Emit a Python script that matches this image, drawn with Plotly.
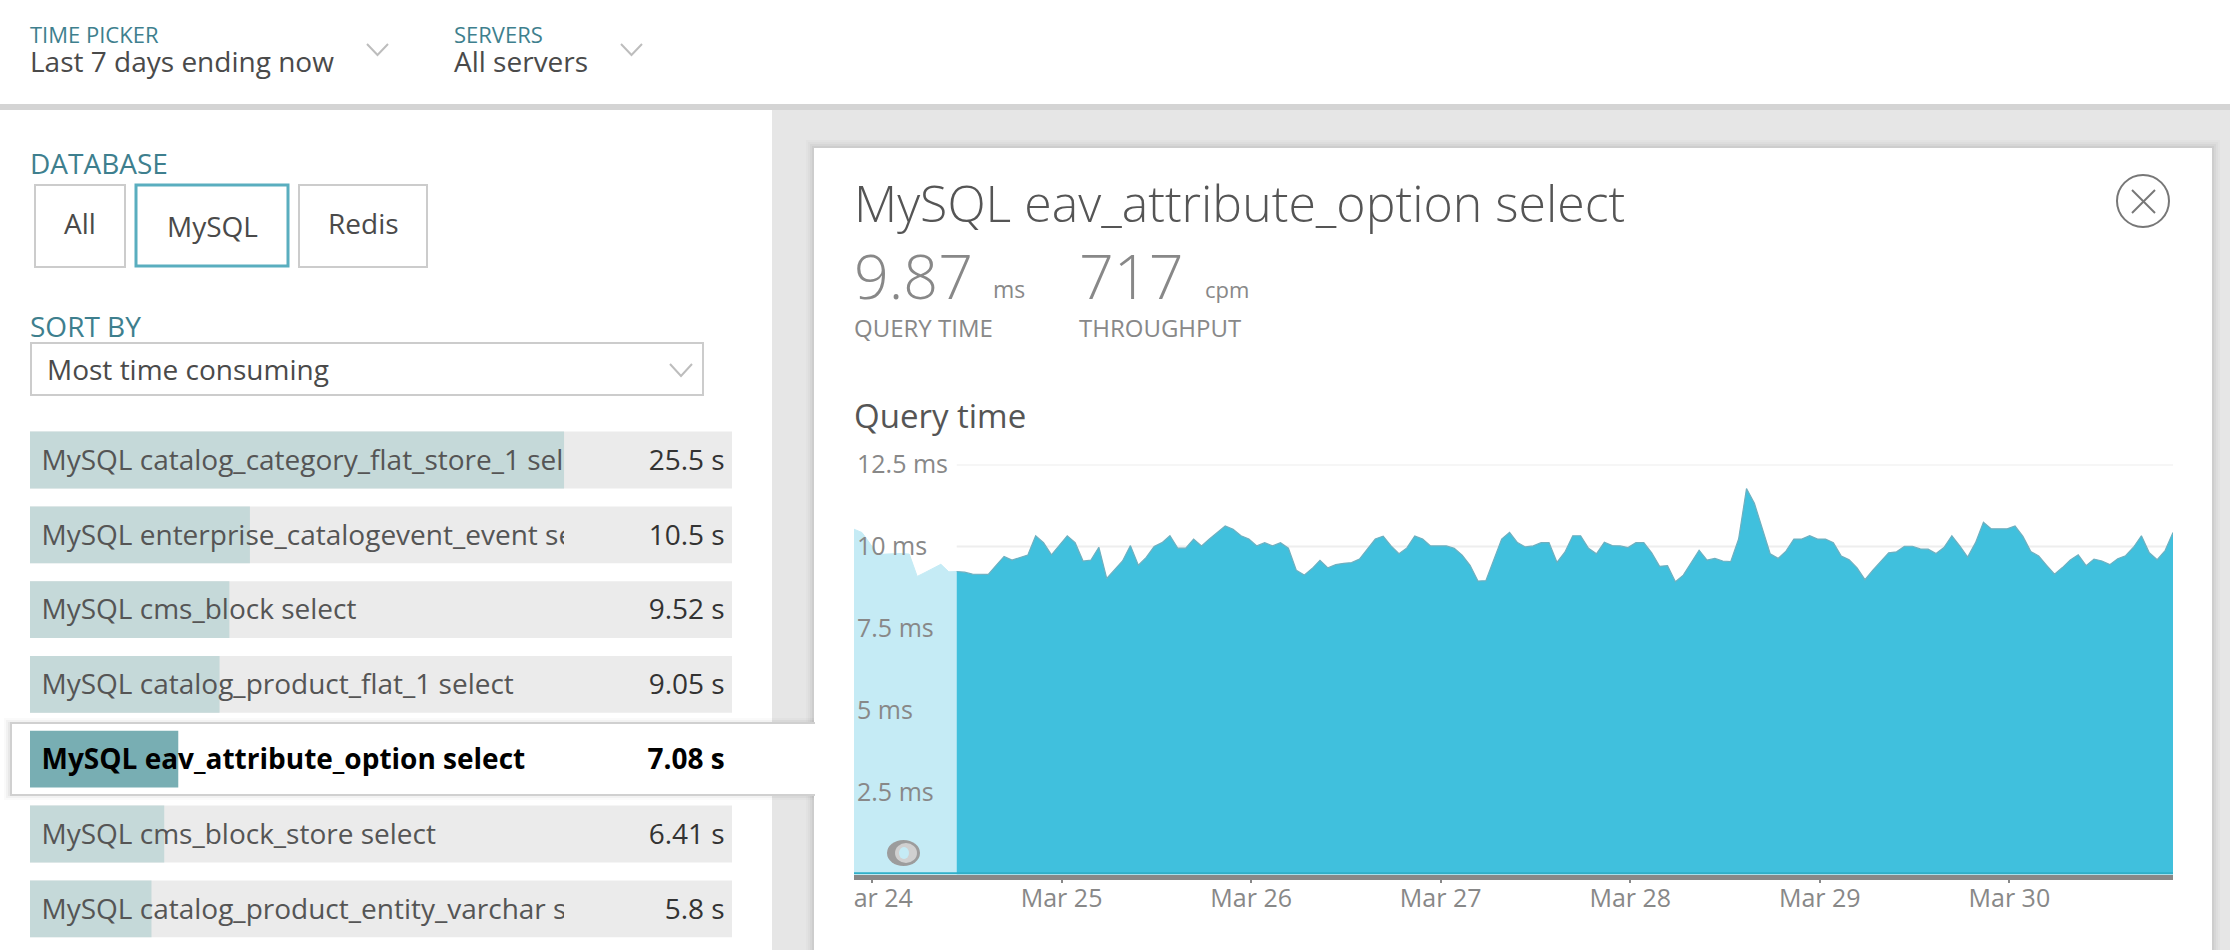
import pandas as pd
import plotly.graph_objects as go

W, H = 2230, 950

# query time, one value per hour (ms)
query_ms = [
    10.53, 10.43, 10.10, 9.75, 9.77, 9.79, 9.79, 9.77, 9.09, 9.21, 9.33, 9.46, 9.23, 9.24,
    9.22, 9.16, 9.16, 9.15, 9.43, 9.70, 9.59, 9.66, 9.74, 10.33, 10.12, 9.75, 10.03, 10.33,
    10.12, 9.56, 9.59, 9.98, 9.03, 9.30, 9.56, 10.03, 9.43, 9.67, 10.00, 10.12, 10.33, 9.95,
    9.95, 10.23, 10.02, 10.23, 10.43, 10.63, 10.53, 10.33, 10.23, 10.02, 10.12, 10.02, 10.12, 9.95,
    9.28, 9.13, 9.33, 9.58, 9.35, 9.45, 9.49, 9.51, 9.62, 9.92, 10.23, 10.32, 10.02, 9.78,
    9.96, 10.32, 10.23, 10.02, 10.02, 10.02, 9.95, 9.74, 9.43, 8.95, 8.96, 9.61, 10.23, 10.43,
    10.12, 9.99, 10.02, 10.12, 10.12, 9.52, 9.83, 10.33, 10.33, 9.95, 9.78, 10.13, 10.03, 10.02,
    9.97, 10.12, 10.12, 9.81, 9.40, 9.42, 8.93, 9.13, 9.49, 9.89, 9.59, 9.64, 9.56, 9.54,
    10.23, 11.77, 11.32, 10.54, 9.78, 9.64, 9.86, 10.23, 10.23, 10.33, 10.23, 10.23, 10.12, 9.71,
    9.60, 9.35, 8.99, 9.28, 9.55, 9.81, 9.84, 10.01, 10.01, 9.93, 9.92, 9.79, 9.97, 10.33,
    10.02, 9.68, 10.12, 10.74, 10.54, 10.54, 10.54, 10.63, 10.31, 9.85, 9.71, 9.43, 9.16, 9.36,
    9.59, 9.75, 9.42, 9.62, 9.56, 9.45, 9.63, 9.72, 9.98, 10.33, 9.81, 9.60, 9.88, 10.43,
]
times = pd.date_range("2017-03-23 21:43", periods=len(query_ms), freq="h")
selection_end = 13  # hours left of this are outside the selected window

y_ticks = [2.5, 5, 7.5, 10, 12.5]
y_tick_labels = ["2.5 ms", "5 ms", "7.5 ms", "10 ms", "12.5 ms"]

# list of queries on the left
query_names = [
    "MySQL catalog_category_flat_store_1 select",
    "MySQL enterprise_catalogevent_event select",
    "MySQL cms_block select",
    "MySQL catalog_product_flat_1 select",
    "MySQL eav_attribute_option select",
    "MySQL cms_block_store select",
    "MySQL catalog_product_entity_varchar select",
]
query_seconds = [25.5, 10.5, 9.52, 9.05, 7.08, 6.41, 5.8]
seconds_labels = ["25.5 s", "10.5 s", "9.52 s", "9.05 s", "7.08 s", "6.41 s", "5.8 s"]
selected = 4
track_seconds = 33.52


def px(x):
    return x / W


def py(y):
    return 1 - y / H


def rect(x0, y0, x1, y1, fill=None, line=None, width=0, layer="below"):
    fig.add_shape(type="rect", xref="paper", yref="paper",
                  x0=px(x0), x1=px(x1), y0=py(y0), y1=py(y1),
                  fillcolor=fill or "rgba(0,0,0,0)",
                  line=dict(color=line or "rgba(0,0,0,0)", width=width), layer=layer)


def label(x, y, text, size, color, anchor="left", weight=400):
    fig.add_annotation(xref="paper", yref="paper", x=px(x), y=py(y), text=text,
                       xanchor=anchor, yanchor="middle", showarrow=False,
                       font=dict(family="Open Sans", size=size, color=color, weight=weight))


def chevron(x0, x1, y0, y1):
    xm = (x0 + x1) / 2
    path = f"M {px(x0)} {py(y0)} L {px(xm)} {py(y1)} L {px(x1)} {py(y0)}"
    fig.add_shape(type="path", xref="paper", yref="paper", path=path,
                  line=dict(color="#BDBDBD", width=2), layer="below")


fig = go.Figure()

# area chart
fig.add_trace(go.Scatter(x=times[:selection_end + 1], y=query_ms[:selection_end + 1],
                         mode="lines", fill="tozeroy", fillcolor="#C5EBF5",
                         line=dict(color="#C5EBF5", width=1), hoverinfo="skip"))
fig.add_trace(go.Scatter(x=times[selection_end:], y=query_ms[selection_end:],
                         mode="lines", fill="tozeroy", fillcolor="#40C0DD",
                         line=dict(color="#6FAFBF", width=1.2), hoverinfo="skip"))

# rows: grey track, value bar, then the numbers
track_colors = ["#FFFFFF" if i == selected else "#EBEBEB" for i in range(len(query_names))]
bar_colors = ["#78AEB3" if i == selected else "#C5D9D9" for i in range(len(query_names))]
fig.add_trace(go.Bar(x=[track_seconds] * len(query_names), y=query_names, orientation="h",
                     width=0.76, marker=dict(color=track_colors, line_width=0),
                     xaxis="x2", yaxis="y2", hoverinfo="skip"))
fig.add_trace(go.Bar(x=query_seconds, y=query_names, orientation="h",
                     width=0.76, marker=dict(color=bar_colors, line_width=0),
                     xaxis="x2", yaxis="y2", hoverinfo="skip"))
fig.add_trace(go.Scatter(
    x=[track_seconds - 0.35] * len(query_names), y=query_names, mode="text",
    text=[f"<b>{s}</b>" if i == selected else s for i, s in enumerate(seconds_labels)],
    textposition="middle left",
    textfont=dict(family="Open Sans", size=28,
                  color=["#000000" if i == selected else "#333333" for i in range(len(query_names))]),
    xaxis="x2", yaxis="y3", hoverinfo="skip"))

# names sit on their own axes so long ones get cut at the end of the longest bar
fig.add_trace(go.Scatter(
    x=[0.55] * len(query_names), y=query_names, mode="text",
    text=[f"<b>{n}</b>" if i == selected else n for i, n in enumerate(query_names)],
    textposition="middle right", cliponaxis=True,
    textfont=dict(family="Open Sans", size=28,
                  color=["#000000" if i == selected else "#555555" for i in range(len(query_names))]),
    xaxis="x3", yaxis="y3", hoverinfo="skip"))

# page background
rect(0, 110, W, H, fill="#E6E6E6")
rect(0, 110, 772, H, fill="#FFFFFF")
rect(0, 104, W, 110, fill="#D4D4D4")
for i, alpha in enumerate([0.015, 0.02, 0.03, 0.04]):
    rect(814 - 8 + 2 * i, 148 - 8 + 2 * i, 2212 + 8 - 2 * i, H, fill=f"rgba(0,0,0,{alpha})")
rect(814, 148, 2212, H, fill="#FFFFFF")

# selected row box, runs into the card
for i, alpha in enumerate([0.02, 0.03, 0.04]):
    rect(4 + 2 * i, 718 + 2 * i, 814, 800 - 2 * i, fill=f"rgba(0,0,0,{alpha})")
rect(11, 723, 814, 795, fill="#FFFFFF", line="#D0D0D0", width=2)
rect(800, 724, 816, 794, fill="#FFFFFF")

# header
label(27.5, 34, "TIME PICKER", 22, "#3E7F8E")
label(27.5, 61, "Last 7 days ending now", 28, "#4A4A4A")
chevron(367, 388, 44, 55)
label(452, 34, "SERVERS", 22, "#3E7F8E")
label(452, 61, "All servers", 28, "#4A4A4A")
chevron(621, 642, 44, 55)

# left panel controls
label(27.5, 163, "DATABASE", 28, "#3E7F8E")
rect(35, 185, 125, 267, line="#CCCCCC", width=2)
label(80, 223, "All", 28, "#4A4A4A", "center")
rect(136, 185, 288, 266, line="#5AAEBF", width=3)
label(212, 226, "MySQL", 28, "#4A4A4A", "center")
rect(299, 185, 427, 267, line="#CCCCCC", width=2)
label(363, 223, "Redis", 28, "#4A4A4A", "center")
label(27.5, 326, "SORT BY", 28, "#3E7F8E")
rect(31, 343, 703, 395, line="#CCCCCC", width=2)
label(44.5, 368.5, "Most time consuming", 28, "#4A4A4A")
chevron(670, 692, 364, 376)

# detail card text
label(851.5, 203, "MySQL eav_attribute_option select", 50, "#555555", weight=300)
label(851.5, 275, "9.87", 61, "#888888", weight=300)
label(991, 289, "ms", 23, "#888888")
label(1076.5, 275, "717", 61, "#888888", weight=300)
label(1203, 289, "cpm", 22, "#888888")
label(851.5, 327, "QUERY TIME", 24, "#888888")
label(1076.5, 327, "THROUGHPUT", 24, "#888888")
label(851.5, 415, "Query time", 33, "#555555")

# close button
fig.add_shape(type="circle", xref="paper", yref="paper",
              x0=px(2117), x1=px(2169), y0=py(175), y1=py(227),
              line=dict(color="#777777", width=2), layer="below")
for a, b in [((2132, 190), (2155, 213)), ((2155, 190), (2132, 213))]:
    fig.add_shape(type="line", xref="paper", yref="paper",
                  x0=px(a[0]), x1=px(b[0]), y0=py(a[1]), y1=py(b[1]),
                  line=dict(color="#777777", width=2), layer="below")

# gridlines only run over the selected window
for v in y_ticks:
    fig.add_shape(type="line", xref="x", yref="y", x0=times[selection_end], x1=times[-1],
                  y0=v, y1=v, line=dict(color="#EEEEEE", width=2), layer="below")

# thin teal strip on top of the axis line
fig.add_shape(type="rect", xref="x", yref="y", x0=times[0], x1=times[-1], y0=0, y1=0.065,
              fillcolor="#2FAFC8", line_width=0, layer="above")

# drag handle
fig.add_shape(type="circle", xref="paper", yref="paper",
              x0=px(887), x1=px(920), y0=py(840), y1=py(866),
              fillcolor="#9C9C9C", line_width=0, layer="above")
fig.add_shape(type="circle", xref="paper", yref="paper",
              x0=px(895), x1=px(917), y0=py(843), y1=py(863),
              fillcolor="#D0D0D0", line_width=0, layer="above")
fig.add_shape(type="circle", xref="paper", yref="paper",
              x0=px(899), x1=px(909), y0=py(847), y1=py(859),
              fillcolor="#C5EBF5", line_width=0, layer="above")

# the first date label is cut by the chart's left edge
rect(815, 884, 853.5, 915, fill="#FFFFFF", layer="above")

row_domain = [py(946.2), py(422.6)]
text_domain = [py(949), py(425.4)]  # row text sits a little lower than the middle of the bar
fig.update_layout(
    width=W, height=H,
    margin=dict(l=0, r=0, t=0, b=0),
    paper_bgcolor="#FFFFFF", plot_bgcolor="rgba(0,0,0,0)",
    showlegend=False, barmode="overlay",
    font=dict(family="Open Sans"),
    xaxis=dict(domain=[px(854), px(2173)], range=[times[0], times[-1]], type="date",
               tick0="2017-03-24", dtick=86400000, tickformat="%b %d", automargin=False,
               showgrid=False, zeroline=False, showline=True, linecolor="#888888", linewidth=5,
               ticks="outside", ticklen=3, tickwidth=2, tickcolor="#888888",
               tickfont=dict(family="Open Sans", size=25, color="#888888"),
               ticklabelstandoff=-6, anchor="y"),
    yaxis=dict(domain=[py(874.5), py(464.6)], range=[0, 12.5], automargin=False,
               tickvals=y_ticks, ticktext=y_tick_labels,
               ticklabelposition="inside", ticklabeloverflow="allow", ticks="",
               showgrid=False, zeroline=False, showline=False,
               tickfont=dict(family="Open Sans", size=25, color="#888888"),
               anchor="x"),
    xaxis2=dict(domain=[px(30), px(732)], range=[0, track_seconds], visible=False, anchor="y2", automargin=False),
    yaxis2=dict(domain=row_domain, type="category", categoryorder="array", categoryarray=query_names,
                range=[6.5, -0.5], visible=False, anchor="x2", automargin=False),
    xaxis3=dict(domain=[px(30), px(564)], range=[0, query_seconds[0]], visible=False, anchor="y3", automargin=False),
    yaxis3=dict(domain=text_domain, type="category", categoryorder="array", categoryarray=query_names,
                range=[6.5, -0.5], visible=False, anchor="x3", automargin=False),
)

# plotly's page has a body margin, pin the graph to the window corner
fig.write_html("out.html", config=dict(displayModeBar=False),
               post_script="var g=document.getElementById('{plot_id}');"
               "g.style.position='fixed';g.style.left='0';g.style.top='0';")
